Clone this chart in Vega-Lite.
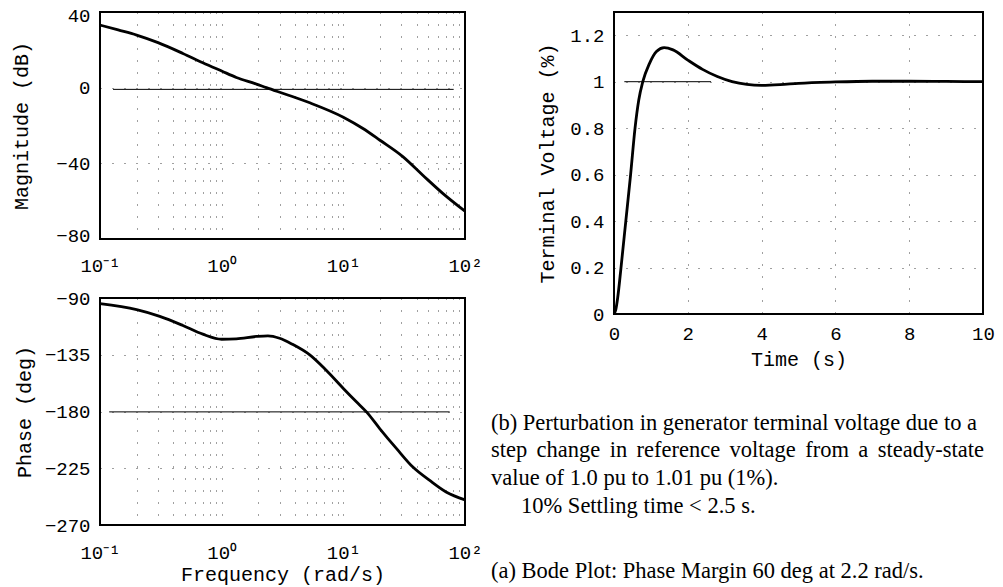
{
  "$schema": "https://vega.github.io/schema/vega-lite/v6.json",
  "background": "white",
  "padding": {"left": 10, "top": 5, "right": 0, "bottom": 0},
  "config": {
    "view": {"stroke": "black", "strokeWidth": 2},
    "font": "Liberation Mono",
    "axis": {
      "labelFont": "Liberation Mono", "labelFontSize": 19, "labelColor": "black",
      "titleFont": "Liberation Mono", "titleFontSize": 20, "titleFontWeight": "normal", "titleColor": "black",
      "domain": false, "ticks": false, "labelPadding": 10, "titlePadding": 12,
      "grid": true, "gridColor": "black", "gridDash": [1, 11], "gridOpacity": 0.75, "gridWidth": 1,
      "labelOverlap": false, "labelBound": false, "labelFlush": false
    },
    "line": {"color": "black", "strokeWidth": 2.8, "interpolate": "monotone"},
    "rule": {"color": "black", "strokeWidth": 1}
  },
  "datasets": {
    "mag": [
      {"f": 0.1, "db": 33.1}, {"f": 0.141, "db": 30.5}, {"f": 0.2, "db": 27.8}, {"f": 0.3, "db": 23.8},
      {"f": 0.48, "db": 18.1}, {"f": 0.7, "db": 13.2}, {"f": 1.0, "db": 8.8}, {"f": 1.32, "db": 5.4},
      {"f": 1.93, "db": 1.9}, {"f": 2.33, "db": 0.0}, {"f": 3.4, "db": -3.6}, {"f": 5.3, "db": -8.0},
      {"f": 10, "db": -15.6}, {"f": 14.5, "db": -21.6}, {"f": 20, "db": -27.8}, {"f": 31, "db": -36.6},
      {"f": 45, "db": -46.3}, {"f": 66, "db": -56.0}, {"f": 100, "db": -65.3}
    ],
    "phase": [
      {"f": 0.1, "deg": -94.5}, {"f": 0.2, "deg": -99.3}, {"f": 0.31, "deg": -104.6}, {"f": 0.48, "deg": -111.8},
      {"f": 0.7, "deg": -118.7}, {"f": 1.0, "deg": -122.7}, {"f": 1.32, "deg": -122.4}, {"f": 1.93, "deg": -120.5},
      {"f": 2.4, "deg": -120.0}, {"f": 2.99, "deg": -121.9}, {"f": 3.8, "deg": -126.6}, {"f": 5.3, "deg": -135.1},
      {"f": 7.2, "deg": -147.1}, {"f": 10, "deg": -161.7}, {"f": 12.8, "deg": -172.3}, {"f": 15.5, "deg": -180.3},
      {"f": 19.9, "deg": -193.5}, {"f": 27.4, "deg": -209.5}, {"f": 37.3, "deg": -224.1}, {"f": 51.3, "deg": -234.7},
      {"f": 70.5, "deg": -244.0}, {"f": 100, "deg": -250.1}
    ],
    "step": [
      {"t": 0, "v": 0}, {"t": 0.05, "v": 0.02}, {"t": 0.1, "v": 0.07}, {"t": 0.19, "v": 0.2}, {"t": 0.32, "v": 0.4},
      {"t": 0.45, "v": 0.6}, {"t": 0.57, "v": 0.8}, {"t": 0.67, "v": 0.92}, {"t": 0.78, "v": 1.0}, {"t": 0.96, "v": 1.078},
      {"t": 1.15, "v": 1.13}, {"t": 1.36, "v": 1.147}, {"t": 1.6, "v": 1.137}, {"t": 2.0, "v": 1.093}, {"t": 2.4, "v": 1.053},
      {"t": 2.8, "v": 1.022}, {"t": 3.2, "v": 1.0}, {"t": 3.6, "v": 0.988}, {"t": 4.0, "v": 0.984}, {"t": 4.5, "v": 0.987},
      {"t": 5.0, "v": 0.993}, {"t": 6.0, "v": 0.999}, {"t": 7.0, "v": 1.002}, {"t": 8.0, "v": 1.002}, {"t": 9.0, "v": 1.001},
      {"t": 10, "v": 1.0}
    ],
    "magref": [{"f1": 0.128, "f2": 80.7, "db": -0.9}],
    "phaseref": [{"f1": 0.119, "f2": 74.8, "deg": -180.3}],
    "stepref": [{"t1": 0.28, "t2": 2.63, "v": 1.0}],
    "captions": [
      {"line": 1, "indent": 0, "text": "(b) Perturbation in generator terminal voltage due to a"},
      {"line": 2, "indent": 0, "text": "step \u2006change \u2006in \u2006reference \u2006voltage \u2006from \u2006a \u2006steady-state"},
      {"line": 3, "indent": 0, "text": "value of 1.0 pu to 1.01 pu (1%)."},
      {"line": 4, "indent": 1, "text": "10% Settling time < 2.5 s."},
      {"line": 6.35, "indent": 0, "text": "(a) Bode Plot: Phase Margin 60 deg at 2.2 rad/s."}
    ]
  },
  "spacing": 7,
  "hconcat": [
    {
      "bounds": "flush",
      "spacing": 59,
      "vconcat": [
        {
          "width": 365, "height": 227,
          "layer": [
            {
              "data": {"name": "mag"},
              "mark": {"type": "line"},
              "encoding": {
                "x": {"field": "f", "type": "quantitative",
                  "scale": {"type": "log", "domain": [0.1, 100], "nice": false},
                  "axis": {"title": null, "labelPadding": 17,
                    "values": [0.1,0.2,0.3,0.4,0.5,0.6,0.7,0.8,0.9,1,2,3,4,5,6,7,8,9,10,20,30,40,50,60,70,80,90,100],
                    "labelExpr": "datum.value == 0.1 ? '10\u207b\u00b9' : datum.value == 1 ? '10\u2070' : datum.value == 10 ? '10\u00b9' : datum.value == 100 ? '10\u00b2' : ''"}},
                "y": {"field": "db", "type": "quantitative",
                  "scale": {"domain": [-80, 40], "nice": false},
                  "axis": {"title": "Magnitude (dB)", "titlePadding": 24, "format": "d", "values": [-80,-60,-40,-20,0,20,40], "labelFlush": true, "labelFlushOffset": 6}}
              }
            },
            {
              "data": {"name": "magref"},
              "mark": {"type": "rule"},
              "encoding": {
                "x": {"field": "f1", "type": "quantitative"},
                "x2": {"field": "f2"},
                "y": {"field": "db", "type": "quantitative"}
              }
            }
          ]
        },
        {
          "width": 365, "height": 227,
          "layer": [
            {
              "data": {"name": "phase"},
              "mark": {"type": "line"},
              "encoding": {
                "x": {"field": "f", "type": "quantitative",
                  "scale": {"type": "log", "domain": [0.1, 100], "nice": false},
                  "axis": {"title": "Frequency (rad/s)", "labelPadding": 18, "titlePadding": 2,
                    "values": [0.1,0.2,0.3,0.4,0.5,0.6,0.7,0.8,0.9,1,2,3,4,5,6,7,8,9,10,20,30,40,50,60,70,80,90,100],
                    "labelExpr": "datum.value == 0.1 ? '10\u207b\u00b9' : datum.value == 1 ? '10\u2070' : datum.value == 10 ? '10\u00b9' : datum.value == 100 ? '10\u00b2' : ''"}},
                "y": {"field": "deg", "type": "quantitative",
                  "scale": {"domain": [-270, -90], "nice": false},
                  "axis": {"title": "Phase (deg)", "titlePadding": 10, "format": "d", "values": [-270,-225,-180,-135,-90]}}
              }
            },
            {
              "data": {"name": "phaseref"},
              "mark": {"type": "rule"},
              "encoding": {
                "x": {"field": "f1", "type": "quantitative"},
                "x2": {"field": "f2"},
                "y": {"field": "deg", "type": "quantitative"}
              }
            }
          ]
        }
      ]
    },
    {
      "bounds": "flush",
      "spacing": 88,
      "vconcat": [
        {
          "width": 369, "height": 302,
          "layer": [
            {
              "data": {"name": "step"},
              "mark": {"type": "line"},
              "encoding": {
                "x": {"field": "t", "type": "quantitative",
                  "scale": {"domain": [0, 10], "nice": false},
                  "axis": {"title": "Time (s)", "titlePadding": 6, "format": "d", "values": [0,2,4,6,8,10]}},
                "y": {"field": "v", "type": "quantitative",
                  "scale": {"domain": [0, 1.3], "nice": false},
                  "axis": {"title": "Terminal Voltage (%)", "format": "~g", "values": [0,0.2,0.4,0.6,0.8,1,1.2]}}
              }
            },
            {
              "data": {"name": "stepref"},
              "mark": {"type": "rule"},
              "encoding": {
                "x": {"field": "t1", "type": "quantitative"},
                "x2": {"field": "t2"},
                "y": {"field": "v", "type": "quantitative"}
              }
            }
          ]
        },
        {
          "width": 369, "height": 180,
          "view": {"stroke": null},
          "data": {"name": "captions"},
          "mark": {"type": "text", "align": "left", "baseline": "alphabetic", "font": "Liberation Serif", "fontSize": 22.5, "clip": false, "color": "black"},
          "encoding": {
            "x": {"field": "indent", "type": "quantitative", "scale": {"domain": [4.1, 16.4]}, "axis": null},
            "y": {"field": "line", "type": "quantitative", "scale": {"domain": [0, 6.5], "reverse": true}, "axis": null},
            "text": {"field": "text"}
          }
        }
      ]
    }
  ]
}
